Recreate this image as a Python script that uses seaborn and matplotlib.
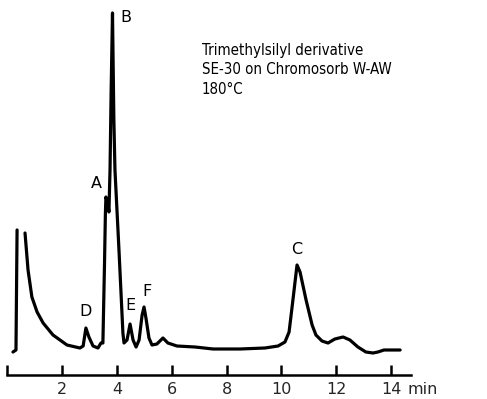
import matplotlib
matplotlib.use("Agg")
import matplotlib.pyplot as plt
import seaborn as sns
import pandas as pd

# Injection spike (pen lifted before the solvent tail)
spike_time = [0.21, 0.32, 0.36]
spike_signal = [0, 2, 122]

# Main detector trace, retention time in minutes
trace_time = [0.65, 0.76, 0.90, 1.09, 1.31, 1.67, 2.18, 2.65, 2.77, 2.87, 2.98, 3.13,
              3.31, 3.42, 3.49, 3.55, 3.58, 3.60, 3.66, 3.71, 3.75, 3.79, 3.84, 3.89,
              3.93, 4.08, 4.22, 4.26, 4.37, 4.48, 4.59, 4.70, 4.81, 4.92, 4.99, 5.06,
              5.17, 5.28, 5.46, 5.68, 5.86, 6.19, 6.85, 7.51, 8.49, 9.40, 9.88, 10.13,
              10.28, 10.42, 10.57, 10.68, 10.90, 11.12, 11.26, 11.48, 11.70, 11.95, 12.25,
              12.50, 12.79, 13.08, 13.34, 13.52, 13.74, 13.96, 14.33]
trace_signal = [119, 82, 55, 40, 29, 17, 7, 4, 6, 24, 15, 6,
                4, 9, 9, 90, 137, 155, 150, 140, 182, 260, 339, 232,
                182, 100, 19, 9, 12, 28, 12, 5, 12, 37, 45, 34,
                14, 7, 8, 14, 9, 6, 5, 3, 3, 4, 6, 10,
                20, 52, 87, 80, 52, 27, 17, 11, 9, 13, 15,
                12, 5, 0, -1, 0, 2, 2, 2]

# Peak labels
peak_names = ["A", "B", "C", "D", "E", "F"]
peak_label_time = [3.27, 4.33, 10.57, 2.87, 4.48, 5.10]
peak_label_signal = [169, 334, 103, 41, 47, 60]

tick_values = [0, 2, 4, 6, 8, 10, 12, 14]
tick_labels = ["", "2", "4", "6", "8", "10", "12", "14"]

info_lines = ["Trimethylsilyl derivative", "SE-30 on Chromosorb W-AW", "180°C"]

sns.set_theme(style="white")
plt.rcParams["font.family"] = ["DejaVu Sans"]

fig = plt.figure(figsize=(4.87, 3.99), dpi=100)
ax = fig.add_axes([7.2 / 487, 24 / 399, (411 - 7.2) / 487, 375 / 399])

spike = pd.DataFrame({"t": spike_time, "s": spike_signal})
trace = pd.DataFrame({"t": trace_time, "s": trace_signal})
sns.lineplot(data=spike, x="t", y="s", ax=ax, color="black", lw=2.3, sort=False)
sns.lineplot(data=trace, x="t", y="s", ax=ax, color="black", lw=2.3, sort=False)

for name, tx, sy in zip(peak_names, peak_label_time, peak_label_signal):
    ax.text(tx, sy, name, ha="center", va="center", fontsize=11.5, color="black")

for i, line in enumerate(info_lines):
    ax.text(7.1, 302 - i * 20, line, ha="left", va="center", fontsize=10.8,
            fontstretch="condensed", color="black")

ax.set_xlim(0, (411 - 7.2) / 27.42)
ax.set_ylim(-23, 352)
ax.set_xticks(tick_values)
ax.set_xticklabels(tick_labels, fontsize=11.5)
ax.tick_params(axis="x", direction="in", length=7, width=1.8, pad=5, color="black", bottom=True)
ax.set_yticks([])
ax.set_xlabel("")
ax.set_ylabel("")
for side in ["top", "right", "left"]:
    ax.spines[side].set_visible(False)
ax.spines["bottom"].set_linewidth(1.8)
ax.spines["bottom"].set_color("black")
ax.text(15.15, -37, "min", ha="center", va="center", fontsize=11.5, clip_on=False)

fig.savefig("out.png", dpi=100)
